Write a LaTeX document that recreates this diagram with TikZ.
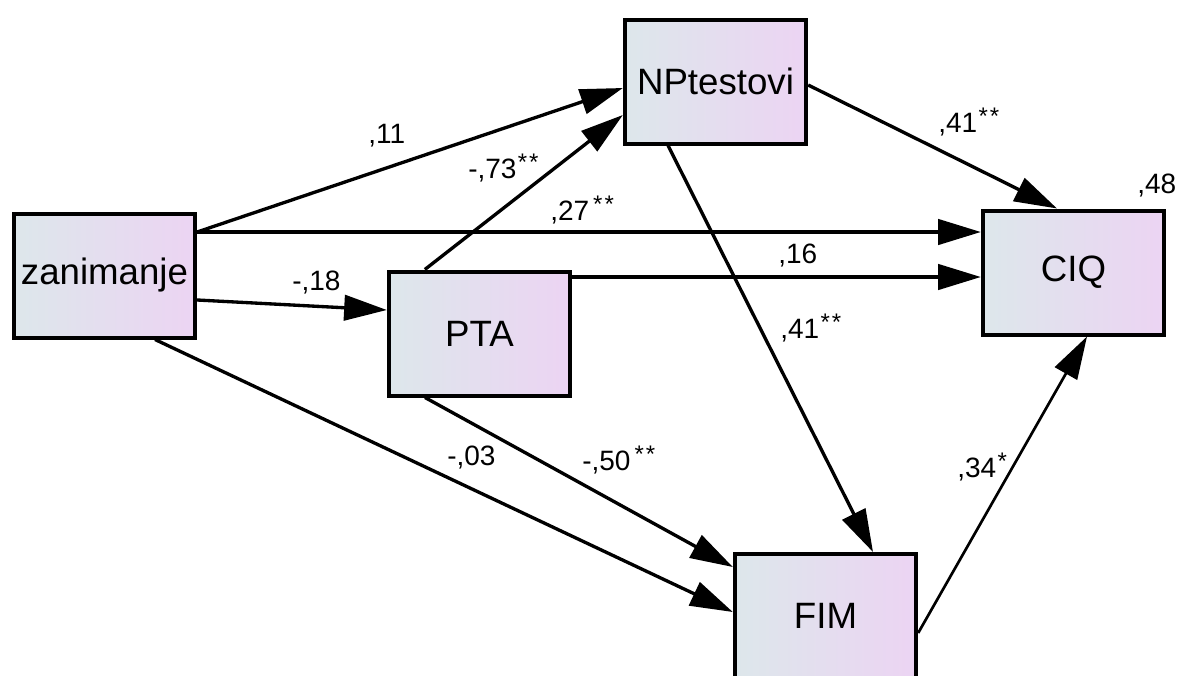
\documentclass[tikz,border=0pt]{standalone}
\usepackage{fontspec}
\setmainfont{Liberation Sans}
\usetikzlibrary{arrows.meta,calc}
\definecolor{gA}{RGB}{221,231,235}
\definecolor{gB}{RGB}{236,212,243}
\newcommand\stx[1]{\kern1pt\raisebox{6pt}{\fontsize{18}{18}\selectfont #1}}
\begin{document}
\begin{tikzpicture}[x=0.75pt,y=-0.75pt,
  var/.style={rectangle, draw=black, line width=3pt, minimum width=136pt,
    minimum height=93pt, inner sep=0pt, left color=gA, right color=gB,
    font=\fontsize{27.5}{30}\selectfont},
  arr/.style={line width=2.5pt, -{Triangle[length=32pt,width=19pt]}},
  lab/.style={font=\fontsize{21}{24}\selectfont, inner sep=0pt, anchor=base west}]
\useasboundingbox (0,0) rectangle (1181,675);
\fill[white] (0,0) rectangle (1181,675);
% variables
\node[var] (npt) at (715.5,81.5) {NPtestovi};
\node[var] (zan) at (104.5,275.5) {zanimanje};
\node[var] (pta) at (479.5,333.5) {PTA};
\node[var] (ciq) at (1073.5,272.5) {CIQ};
\node[var] (fim) at (825.5,616) {FIM};
% connectors
\draw[arr] ($(zan.east)+(0,-43.5)$) -- ($(npt.west)+(0,6.5)$);
\draw[arr] ($(pta.north west)+(38,0)$) -- ($(npt.west)+(0,33.5)$);
\draw[arr] ($(zan.east)+(0,-43.5)$) -- ($(ciq.west)+(0,-40.5)$);
\draw[arr] ($(pta.east)+(0,-56.5)$) -- ($(ciq.west)+(0,4.5)$);
\draw[arr] ($(zan.east)+(0,24.5)$) -- ($(pta.west)+(0,-23.5)$);
\draw[arr] ($(npt.east)+(0,3.5)$) -- ($(ciq.north)+(-16.5,0)$);
\draw[arr] ($(npt.south)+(-47.5,0)$) -- ($(fim.north)+(47.5,0)$);
\draw[arr] ($(zan.south)+(50.5,0)$) -- ($(fim.west)+(0,-4)$);
\draw[arr] ($(pta.south)+(-54.5,0)$) -- ($(fim.west)+(0,-49)$);
\draw[arr, line width=2pt] ($(fim.east)+(0,17)$) -- ($(ciq.south)+(13.5,0)$);
% labels
\node[lab] (l1) at (368,143) {,11};
\node[lab] (l2) at (468,178) {-,73\stx{*\kern1.5pt*}};
\node[lab] (l3) at (550,220) {,27\stx{\kern2pt*\kern1.5pt*}};
\node[lab] (l4) at (778,263) {,16};
\node[lab] (l5) at (780,338) {,41\stx{*\kern1.5pt*}};
\node[lab] (l6) at (447,465) {-,03};
\node[lab] (l7) at (582,470) {-,50\stx{\kern2pt*\kern1.5pt*}};
\node[lab] (l8) at (292,290) {-,18};
\node[lab] (l9) at (938,132) {,41\stx{*\kern1.5pt*}};
\node[lab] (l10) at (957,477) {,34\stx{*}};
\node[lab] (l11) at (1137,193) {,48};
\end{tikzpicture}
\end{document}
